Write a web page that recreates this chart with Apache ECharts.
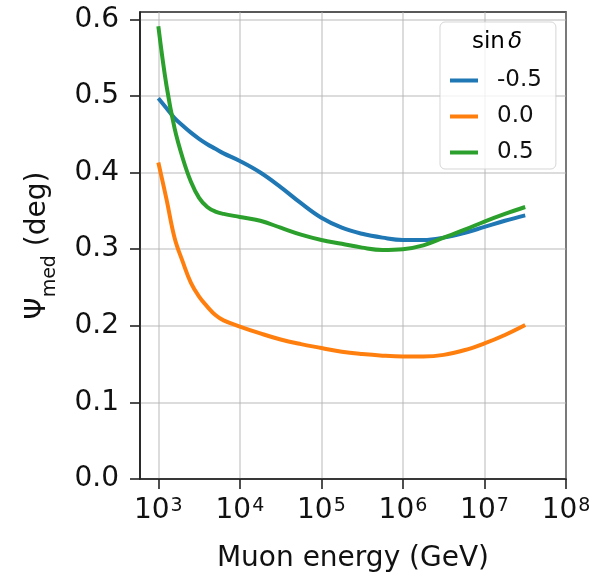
<!DOCTYPE html>
<html>
<head>
<meta charset="utf-8">
<script src="https://cdn.jsdelivr.net/npm/echarts@6/dist/echarts.min.js"></script>
<style>
html,body{margin:0;padding:0;background:#fff;}
#chart{width:608px;height:576px;}
</style>
</head>
<body>
<div id="chart"></div>
<script>
// Muon energy (GeV)
const energies = [1.0e3, 1.26e3, 1.58e3, 2.0e3, 2.51e3, 3.16e3, 3.98e3, 5.01e3, 6.31e3,
  1.0e4, 1.78e4, 3.16e4, 5.62e4, 1.0e5, 1.78e5, 3.16e5, 5.62e5, 1.0e6, 1.78e6, 3.16e6,
  5.62e6, 1.0e7, 1.78e7, 3.16e7];
// Psi_med (deg) for each sin(delta)
const psiMinus05 = [0.497, 0.484, 0.471, 0.461, 0.452, 0.444, 0.437, 0.431, 0.425,
  0.415, 0.400, 0.381, 0.360, 0.341, 0.328, 0.320, 0.315, 0.312, 0.312, 0.315,
  0.321, 0.329, 0.337, 0.344];
const psi00 = [0.413, 0.365, 0.315, 0.283, 0.256, 0.238, 0.225, 0.214, 0.207,
  0.199, 0.190, 0.182, 0.176, 0.171, 0.166, 0.163, 0.161, 0.160, 0.160, 0.162,
  0.168, 0.177, 0.188, 0.201];
const psiPlus05 = [0.591, 0.513, 0.458, 0.418, 0.388, 0.367, 0.355, 0.349, 0.346,
  0.342, 0.337, 0.328, 0.319, 0.312, 0.307, 0.302, 0.299, 0.300, 0.305, 0.315,
  0.325, 0.336, 0.346, 0.355];
const seriesNames = ['-0.5', '0.0', '0.5'];
const seriesColors = ['#1f77b4', '#ff7f0e', '#2ca02c'];
const xTicks = [1e3, 1e4, 1e5, 1e6, 1e7, 1e8];
const yTicks = [0, 0.1, 0.2, 0.3, 0.4, 0.5, 0.6];

const FONT = 'DejaVu Sans';
const pairs = (ys) => energies.map((e, i) => [e, ys[i]]);
const allY = [psiMinus05, psi00, psiPlus05];

const chart = echarts.init(document.getElementById('chart'), null, {renderer: 'canvas'});
const option = {
  backgroundColor: '#fff',
  animation: false,
  textStyle: {fontFamily: FONT},
  grid: {
    left: 140, right: 42, top: 12, bottom: 97,
    show: true, borderColor: '#222', borderWidth: 1.6, backgroundColor: 'transparent',
    outerBoundsMode: 'none'
  },
  xAxis: {
    type: 'log', logBase: 10,
    min: 595.7, max: 1e8,
    name: 'Muon energy (GeV)',
    nameLocation: 'middle', nameGap: 66,
    nameTextStyle: {fontFamily: FONT, fontSize: 28, color: '#111'},
    axisLine: {show: true, lineStyle: {color: '#222', width: 1.6}},
    axisTick: {show: true, length: 10, inside: false, lineStyle: {color: '#222', width: 1.6}, customValues: xTicks},
    minorTick: {show: false},
    splitLine: {show: true, lineStyle: {color: 'rgba(176,176,176,0.6)', width: 1.5}},
    axisLabel: {
      customValues: xTicks,
      margin: 18,
      fontFamily: FONT,
      formatter: (v) => '{a|10}{b|' + Math.round(Math.log10(v)) + '}',
      rich: {
        a: {fontFamily: FONT, fontSize: 28, color: '#111', lineHeight: 30, verticalAlign: 'top'},
        b: {fontFamily: FONT, fontSize: 19, color: '#111', lineHeight: 19, verticalAlign: 'top', padding: [0, 0, 0, 1]}
      }
    }
  },
  yAxis: {
    type: 'value',
    min: 0, max: 0.6095,
    name: '{a|Ψ}{s|med}{a| (deg)}',
    nameLocation: 'middle', nameGap: 80, nameRotate: 90,
    nameTextStyle: {
      fontFamily: FONT, fontSize: 28, color: '#111',
      rich: {
        a: {fontFamily: FONT, fontSize: 28, color: '#111', lineHeight: 36, verticalAlign: 'top'},
        s: {fontFamily: FONT, fontSize: 19, color: '#111', lineHeight: 19, verticalAlign: 'bottom'}
      }
    },
    axisLine: {show: true, lineStyle: {color: '#222', width: 1.6}},
    axisTick: {show: true, length: 10, inside: false, lineStyle: {color: '#222', width: 1.6}, customValues: yTicks},
    splitLine: {show: true, lineStyle: {color: 'rgba(176,176,176,0.6)', width: 1.5}},
    axisLabel: {
      customValues: yTicks,
      margin: 21,
      fontFamily: FONT, fontSize: 28, color: '#111',
      formatter: (v) => v.toFixed(1)
    }
  },
  legend: {
    orient: 'vertical',
    left: 440, top: 22,
    padding: [47, 14, 5, 10],
    itemWidth: 28, itemHeight: 4, itemGap: 13,
    icon: 'rect',
    backgroundColor: 'rgba(255,255,255,0.8)',
    borderColor: 'rgba(204,204,204,0.8)', borderWidth: 1, borderRadius: 5,
    textStyle: {fontFamily: FONT, fontSize: 23, lineHeight: 23, color: '#111', padding: [0, 0, 0, 14]},
    data: seriesNames
  },
  graphic: [{
    type: 'text', x: 497, y: 42, z: 100,
    style: {
      text: '{a|sin}{c| }{b|δ}',
      align: 'center', verticalAlign: 'middle',
      rich: {
        a: {fontFamily: FONT, fontSize: 23, color: '#111'},
        c: {fontFamily: FONT, fontSize: 10, color: '#111'},
        b: {fontFamily: FONT, fontSize: 23, fontStyle: 'italic', color: '#111'}
      }
    }
  }],
  series: seriesNames.map((n, i) => ({
    name: n,
    type: 'line',
    data: pairs(allY[i]),
    color: seriesColors[i],
    showSymbol: false, symbol: 'none',
    smooth: 0.4,
    lineStyle: {color: seriesColors[i], width: 4},
    itemStyle: {color: seriesColors[i]},
    z: 2 + i
  }))
};
chart.setOption(option);
</script>
</body>
</html>
